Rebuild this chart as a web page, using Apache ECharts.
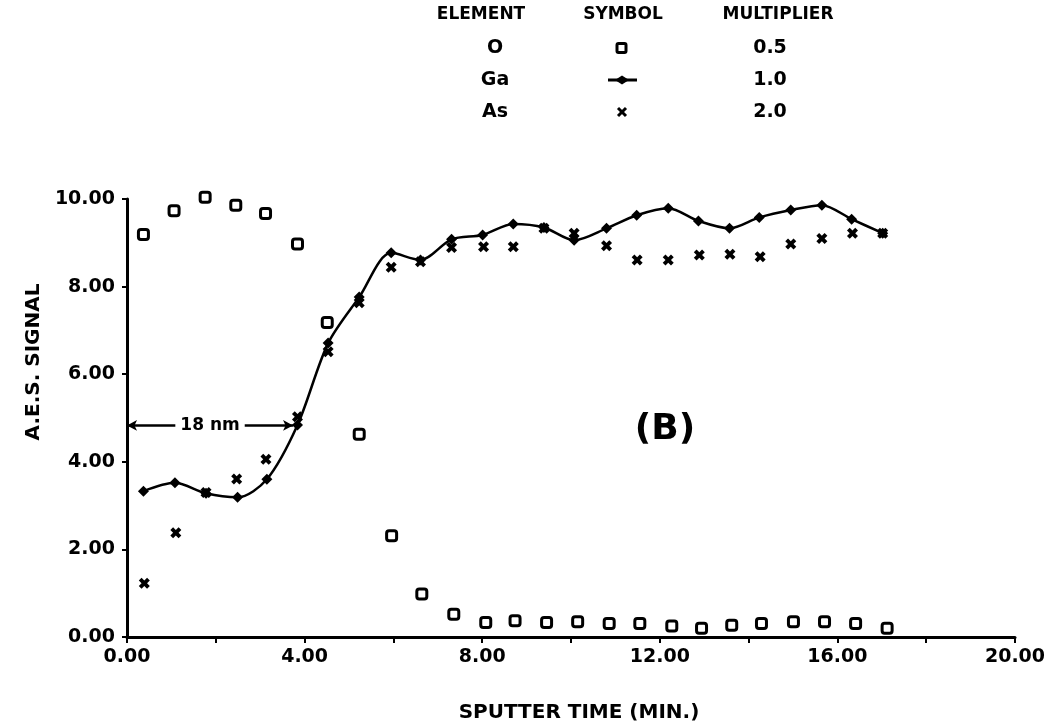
<!DOCTYPE html>
<html>
<head>
<meta charset="utf-8">
<script src="https://cdn.jsdelivr.net/npm/echarts@6/dist/echarts.min.js"></script>
<style>html,body{margin:0;padding:0;background:#fff}#main{width:1056px;height:726px}</style>
</head>
<body>
<div id="main"></div>
<script>
// sputter time (min.) and A.E.S. signal
var oTime = [0.37,1.06,1.76,2.45,3.12,3.84,4.51,5.23,5.96,6.64,7.36,8.08,8.74,9.45,10.15,10.86,11.55,12.27,12.94,13.62,14.29,15.01,15.71,16.41,17.12];
var oSignal = [9.19,9.73,10.04,9.86,9.67,8.97,7.18,4.63,2.31,0.98,0.52,0.33,0.37,0.33,0.35,0.31,0.31,0.25,0.20,0.27,0.31,0.35,0.35,0.31,0.20];
var gaTime = [0.37,1.08,1.78,2.49,3.15,3.84,4.53,5.23,5.95,6.61,7.31,8.01,8.70,9.39,10.07,10.80,11.48,12.19,12.87,13.57,14.24,14.95,15.65,16.32,17.02];
var gaSignal = [3.33,3.52,3.28,3.19,3.60,4.84,6.71,7.76,8.77,8.61,9.08,9.18,9.43,9.35,9.06,9.33,9.63,9.79,9.50,9.33,9.58,9.75,9.86,9.54,9.22];
var asTime = [0.39,1.10,1.78,2.47,3.13,3.84,4.53,5.23,5.95,6.61,7.31,8.03,8.70,9.39,10.07,10.80,11.49,12.19,12.89,13.58,14.26,14.95,15.65,16.34,17.02];
var asSignal = [1.23,2.38,3.30,3.61,4.06,5.03,6.51,7.63,8.44,8.57,8.89,8.91,8.91,9.33,9.22,8.93,8.61,8.61,8.72,8.74,8.68,8.97,9.10,9.22,9.22];

// legend table
var elements = ['O', 'Ga', 'As'];
var multipliers = ['0.5', '1.0', '2.0'];

var font = 'DejaVu Sans';
var xPath = 'path://M0,2.5 L2.5,0 L5,2.5 L7.5,0 L10,2.5 L7.5,5 L10,7.5 L7.5,10 L5,7.5 L2.5,10 L0,7.5 L2.5,5 Z';

function pairs(xs, ys) {
  return xs.map(function (x, i) { return [x, ys[i]]; });
}

var myChart = echarts.init(document.getElementById('main'));

// legend table drawn as graphic elements
var rowY = [48, 80, 112];
var legendItems = [
  {type: 'text', x: 481, y: 15, style: {text: 'ELEMENT', font: 'bold 17px ' + font, fill: '#000', align: 'center', verticalAlign: 'middle'}},
  {type: 'text', x: 623, y: 15, style: {text: 'SYMBOL', font: 'bold 17px ' + font, fill: '#000', align: 'center', verticalAlign: 'middle'}},
  {type: 'text', x: 778, y: 15, style: {text: 'MULTIPLIER', font: 'bold 17px ' + font, fill: '#000', align: 'center', verticalAlign: 'middle'}}
];
elements.forEach(function (el, i) {
  legendItems.push({type: 'text', x: 495, y: rowY[i], style: {text: el, font: 'bold 19px ' + font, fill: '#000', align: 'center', verticalAlign: 'middle'}});
  legendItems.push({type: 'text', x: 770, y: rowY[i], style: {text: multipliers[i], font: 'bold 19px ' + font, fill: '#000', align: 'center', verticalAlign: 'middle'}});
});
legendItems.push({type: 'rect', shape: {x: 617, y: rowY[0] - 4.5, width: 9, height: 9, r: 1.5}, style: {fill: '#fff', stroke: '#000', lineWidth: 3}});
legendItems.push({type: 'line', shape: {x1: 608, y1: rowY[1], x2: 637, y2: rowY[1]}, style: {stroke: '#000', lineWidth: 3}});
legendItems.push({type: 'polygon', shape: {points: [[615, rowY[1]], [622, rowY[1] - 4.5], [629, rowY[1]], [622, rowY[1] + 4.5]]}, style: {fill: '#000'}});
legendItems.push({type: 'line', shape: {x1: 618, y1: rowY[2] - 4, x2: 626, y2: rowY[2] + 4}, style: {stroke: '#000', lineWidth: 3}});
legendItems.push({type: 'line', shape: {x1: 626, y1: rowY[2] - 4, x2: 618, y2: rowY[2] + 4}, style: {stroke: '#000', lineWidth: 3}});
legendItems.push({type: 'text', x: 665, y: 430, style: {text: '(B)', font: 'bold 36px ' + font, fill: '#000', align: 'center', verticalAlign: 'middle'}});

myChart.setOption({
  animation: false,
  backgroundColor: '#fff',
  grid: {left: 127, right: 41, top: 199, bottom: 89, outerBoundsMode: 'none'},
  xAxis: {
    type: 'value',
    min: 0,
    max: 20,
    interval: 2,
    name: 'SPUTTER TIME (MIN.)',
    nameLocation: 'middle',
    nameGap: 66,
    nameTextStyle: {color: '#000', fontFamily: font, fontWeight: 'bold', fontSize: 20, padding: [0, 0, 0, 16]},
    axisLine: {lineStyle: {color: '#000', width: 3}},
    axisTick: {length: 6, lineStyle: {color: '#000', width: 2}},
    axisLabel: {
      color: '#000', fontFamily: font, fontWeight: 'bold', fontSize: 19, margin: 11,
      formatter: function (v) { return v % 4 === 0 ? v.toFixed(2) : ''; }
    },
    splitLine: {show: false}
  },
  yAxis: {
    type: 'value',
    min: 0,
    max: 10,
    interval: 2,
    name: 'A.E.S. SIGNAL',
    nameLocation: 'middle',
    nameGap: 80,
    nameRotate: 90,
    nameTextStyle: {color: '#000', fontFamily: font, fontWeight: 'bold', fontSize: 20, padding: [0, 0, 0, 112]},
    axisLine: {lineStyle: {color: '#000', width: 3}},
    axisTick: {length: 5, lineStyle: {color: '#000', width: 2}},
    axisLabel: {
      color: '#000', fontFamily: font, fontWeight: 'bold', fontSize: 19, margin: 12,
      formatter: function (v) { return v.toFixed(2); }
    },
    splitLine: {show: false}
  },
  graphic: legendItems,
  series: [
    {
      name: 'As',
      type: 'scatter',
      clip: false,
      data: pairs(asTime, asSignal),
      symbol: xPath,
      symbolSize: 11,
      itemStyle: {color: '#000', opacity: 1}
    },
    {
      name: 'Ga',
      type: 'line',
      clip: false,
      data: pairs(gaTime, gaSignal),
      smooth: 0.3,
      symbol: 'diamond',
      symbolSize: [11, 11],
      itemStyle: {color: '#000', opacity: 1},
      lineStyle: {color: '#000', width: 2.5},
      markLine: {
        silent: true,
        symbol: ['arrow', 'arrow'],
        symbolSize: [8, 10],
        lineStyle: {color: '#000', width: 2.5, type: 'solid'},
        label: {
          show: true, position: 'middle', distance: 0, verticalAlign: 'middle',
          formatter: '18 nm', color: '#000',
          fontFamily: font, fontWeight: 'bold', fontSize: 17,
          backgroundColor: '#fff', padding: [0, 5]
        },
        data: [[{coord: [0, 4.83]}, {coord: [3.74, 4.83]}]]
      }
    },
    {
      name: 'O',
      type: 'scatter',
      clip: false,
      data: pairs(oTime, oSignal),
      symbol: 'roundRect',
      symbolSize: 10,
      itemStyle: {color: '#fff', borderColor: '#000', borderWidth: 3, opacity: 1}
    }
  ]
});
</script>
</body>
</html>
